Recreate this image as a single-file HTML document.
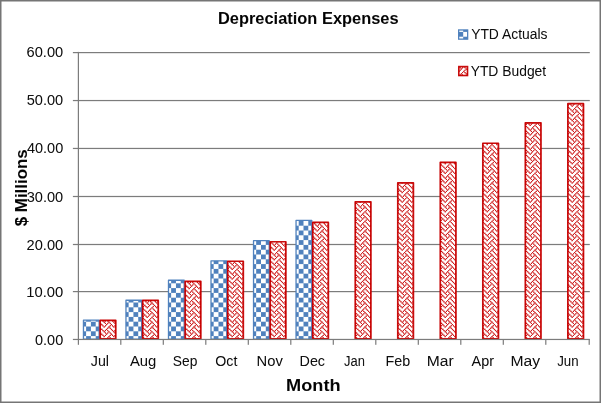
<!DOCTYPE html>
<html><head><meta charset="utf-8"><style>
html,body{margin:0;padding:0;background:#fff;overflow:hidden;}
svg{display:block;}
text{font-family:"Liberation Sans",sans-serif;fill:#000;}
.b{font-weight:bold;}
</style></head><body>
<svg width="601" height="403" viewBox="0 0 601 403">
<defs><pattern id="chk" width="8" height="8" patternUnits="userSpaceOnUse" patternTransform="scale(1.2)"><rect width="8" height="8" fill="#fff"/><rect x="0" y="0" width="4" height="4" fill="#4F81BD"/><rect x="4" y="4" width="4" height="4" fill="#4F81BD"/></pattern><pattern id="wv" width="48" height="48" patternUnits="userSpaceOnUse"><rect width="48" height="48" fill="#fff"/><path fill="#f6d4d4" d="M10 0h1v1h-1zM17 0h1v1h-1zM19 0h1v1h-1zM22 0h1v1h-1zM31 0h1v1h-1zM43 0h1v1h-1zM8 1h1v1h-1zM11 1h1v1h-1zM13 1h1v1h-1zM18 1h1v1h-1zM21 1h1v1h-1zM23 1h1v1h-1zM25 1h1v1h-1zM37 1h1v1h-1zM40 1h1v1h-1zM42 1h1v1h-1zM47 1h1v1h-1zM3 2h1v1h-1zM20 2h1v1h-1zM26 2h2v1h-2zM14 3h2v1h-2zM19 3h1v1h-1zM21 3h1v1h-1zM1 4h1v1h-1zM4 4h1v1h-1zM16 4h1v1h-1zM20 4h1v1h-1zM23 4h1v1h-1zM30 4h1v1h-1zM33 4h1v1h-1zM37 4h1v1h-1zM39 4h1v1h-1zM42 4h1v1h-1zM22 5h1v1h-1zM24 5h1v1h-1zM29 5h1v1h-1zM31 5h1v1h-1zM1 6h1v1h-1zM23 6h1v1h-1zM25 6h1v1h-1zM28 6h1v1h-1zM0 7h1v1h-1zM14 7h1v1h-1zM24 7h1v1h-1zM29 7h1v1h-1zM31 7h1v1h-1zM33 7h1v1h-1zM43 7h1v1h-1zM9 8h1v1h-1zM13 8h1v1h-1zM15 8h1v1h-1zM20 8h1v1h-1zM38 8h2v1h-2zM9 9h1v1h-1zM14 9h1v1h-1zM16 9h1v1h-1zM20 9h1v1h-1zM38 9h2v1h-2zM0 10h1v1h-1zM5 10h1v1h-1zM15 10h1v1h-1zM29 10h1v1h-1zM34 10h1v1h-1zM44 10h1v1h-1zM46 10h1v1h-1zM1 11h1v1h-1zM4 11h1v1h-1zM6 11h1v1h-1zM28 11h1v1h-1zM0 12h1v1h-1zM7 12h1v1h-1zM22 12h1v1h-1zM34 12h1v1h-1zM43 12h1v1h-1zM46 12h1v1h-1zM4 13h1v1h-1zM6 13h1v1h-1zM9 13h1v1h-1zM23 13h1v1h-1zM25 13h1v1h-1zM28 13h1v1h-1zM38 13h1v1h-1zM40 13h1v1h-1zM42 13h1v1h-1zM44 13h1v1h-1zM47 13h1v1h-1zM8 14h1v1h-1zM10 14h1v1h-1zM14 14h1v1h-1zM45 14h1v1h-1zM2 15h2v1h-2zM9 15h1v1h-1zM44 15h1v1h-1zM4 16h1v1h-1zM8 16h1v1h-1zM11 16h1v1h-1zM16 16h1v1h-1zM18 16h1v1h-1zM21 16h1v1h-1zM30 16h1v1h-1zM35 16h1v1h-1zM37 16h1v1h-1zM40 16h1v1h-1zM45 16h1v1h-1zM7 17h1v1h-1zM10 17h1v1h-1zM12 17h1v1h-1zM19 17h1v1h-1zM34 17h1v1h-1zM46 17h1v1h-1zM13 18h1v1h-1zM35 18h1v1h-1zM37 18h1v1h-1zM40 18h1v1h-1zM7 19h1v1h-1zM12 19h1v1h-1zM26 19h1v1h-1zM36 19h1v1h-1zM41 19h1v1h-1zM43 19h1v1h-1zM45 19h1v1h-1zM2 20h2v1h-2zM8 20h1v1h-1zM25 20h1v1h-1zM27 20h1v1h-1zM32 20h1v1h-1zM1 21h1v1h-1zM3 21h1v1h-1zM8 21h1v1h-1zM26 21h2v1h-2zM32 21h1v1h-1zM2 22h1v1h-1zM12 22h1v1h-1zM17 22h1v1h-1zM19 22h1v1h-1zM21 22h1v1h-1zM31 22h1v1h-1zM36 22h1v1h-1zM11 23h1v1h-1zM13 23h1v1h-1zM16 23h1v1h-1zM37 23h1v1h-1zM10 24h1v1h-1zM22 24h1v1h-1zM31 24h1v1h-1zM43 24h1v1h-1zM11 25h1v1h-1zM13 25h1v1h-1zM25 25h1v1h-1zM28 25h1v1h-1zM30 25h1v1h-1zM32 25h1v1h-1zM40 25h1v1h-1zM42 25h1v1h-1zM2 26h1v1h-1zM26 26h2v1h-2zM33 26h1v1h-1zM32 27h1v1h-1zM34 27h1v1h-1zM38 27h2v1h-2zM1 28h1v1h-1zM4 28h1v1h-1zM9 28h1v1h-1zM11 28h1v1h-1zM14 28h1v1h-1zM16 28h1v1h-1zM18 28h1v1h-1zM20 28h1v1h-1zM23 28h1v1h-1zM28 28h1v1h-1zM30 28h1v1h-1zM33 28h1v1h-1zM47 28h1v1h-1zM10 29h1v1h-1zM19 29h1v1h-1zM22 29h1v1h-1zM24 29h1v1h-1zM31 29h1v1h-1zM46 29h1v1h-1zM4 30h1v1h-1zM25 30h1v1h-1zM28 30h1v1h-1zM30 30h1v1h-1zM5 31h1v1h-1zM10 31h1v1h-1zM20 31h1v1h-1zM22 31h1v1h-1zM24 31h1v1h-1zM29 31h1v1h-1zM39 31h1v1h-1zM14 32h2v1h-2zM33 32h1v1h-1zM38 32h1v1h-1zM40 32h1v1h-1zM14 33h1v1h-1zM16 33h1v1h-1zM33 33h1v1h-1zM37 33h1v1h-1zM39 33h1v1h-1zM0 34h1v1h-1zM5 34h1v1h-1zM9 34h1v1h-1zM15 34h1v1h-1zM19 34h1v1h-1zM34 34h1v1h-1zM38 34h1v1h-1zM44 34h1v1h-1zM1 35h1v1h-1zM4 35h1v1h-1zM6 35h1v1h-1zM47 35h1v1h-1zM5 36h1v1h-1zM7 36h1v1h-1zM10 36h1v1h-1zM19 36h1v1h-1zM31 36h1v1h-1zM46 36h1v1h-1zM1 37h1v1h-1zM6 37h1v1h-1zM9 37h1v1h-1zM11 37h1v1h-1zM13 37h1v1h-1zM15 37h1v1h-1zM18 37h1v1h-1zM20 37h1v1h-1zM25 37h1v1h-1zM28 37h1v1h-1zM30 37h1v1h-1zM44 37h1v1h-1zM47 37h1v1h-1zM38 38h2v1h-2zM43 38h1v1h-1zM45 38h1v1h-1zM2 39h2v1h-2zM27 39h1v1h-1zM44 39h1v1h-1zM1 40h1v1h-1zM13 40h1v1h-1zM16 40h1v1h-1zM18 40h1v1h-1zM23 40h1v1h-1zM32 40h1v1h-1zM35 40h1v1h-1zM37 40h1v1h-1zM42 40h1v1h-1zM45 40h1v1h-1zM47 40h1v1h-1zM7 41h1v1h-1zM19 41h1v1h-1zM34 41h1v1h-1zM41 41h1v1h-1zM43 41h1v1h-1zM46 41h1v1h-1zM13 42h1v1h-1zM18 42h1v1h-1zM35 42h1v1h-1zM40 42h1v1h-1zM7 43h2v1h-2zM10 43h1v1h-1zM12 43h1v1h-1zM17 43h1v1h-1zM26 43h2v1h-2zM36 43h1v1h-1zM41 43h1v1h-1zM43 43h1v1h-1zM45 43h2v1h-2zM2 44h2v1h-2zM21 44h1v1h-1zM25 44h1v1h-1zM28 44h1v1h-1zM2 45h1v1h-1zM4 45h1v1h-1zM21 45h1v1h-1zM26 45h2v1h-2zM3 46h1v1h-1zM17 46h1v1h-1zM22 46h1v1h-1zM32 46h1v1h-1zM34 46h1v1h-1zM36 46h1v1h-1zM41 46h1v1h-1zM16 47h1v1h-1zM37 47h1v1h-1zM40 47h1v1h-1zM42 47h1v1h-1z"/><path fill="#edaaaa" d="M2 0h2v1h-2zM14 0h1v1h-1zM38 0h2v1h-2zM46 0h1v1h-1zM1 1h1v1h-1zM4 1h1v1h-1zM28 1h1v1h-1zM30 1h1v1h-1zM44 1h1v1h-1zM8 2h1v1h-1zM10 2h1v1h-1zM32 2h1v1h-1zM39 2h1v1h-1zM45 2h1v1h-1zM2 3h1v1h-1zM31 3h1v1h-1zM33 3h1v1h-1zM38 3h1v1h-1zM44 3h1v1h-1zM8 4h1v1h-1zM11 4h1v1h-1zM13 4h1v1h-1zM40 4h1v1h-1zM45 4h1v1h-1zM2 5h2v1h-2zM10 5h1v1h-1zM43 5h1v1h-1zM4 6h1v1h-1zM44 6h1v1h-1zM2 7h1v1h-1zM5 7h1v1h-1zM10 7h1v1h-1zM19 7h1v1h-1zM26 7h2v1h-2zM34 7h1v1h-1zM1 8h1v1h-1zM11 8h1v1h-1zM18 8h1v1h-1zM25 8h1v1h-1zM28 8h1v1h-1zM30 8h1v1h-1zM32 8h1v1h-1zM44 8h1v1h-1zM47 8h1v1h-1zM1 9h1v1h-1zM4 9h1v1h-1zM11 9h1v1h-1zM18 9h1v1h-1zM28 9h1v1h-1zM30 9h1v1h-1zM33 9h1v1h-1zM45 9h1v1h-1zM47 9h1v1h-1zM2 10h2v1h-2zM10 10h1v1h-1zM19 10h1v1h-1zM24 10h1v1h-1zM27 10h1v1h-1zM43 10h1v1h-1zM25 11h1v1h-1zM3 12h1v1h-1zM14 12h2v1h-2zM19 12h1v1h-1zM26 12h2v1h-2zM13 13h1v1h-1zM16 13h1v1h-1zM18 13h1v1h-1zM21 13h1v1h-1zM35 13h1v1h-1zM37 13h1v1h-1zM7 14h1v1h-1zM26 14h2v1h-2zM33 14h1v1h-1zM39 14h1v1h-1zM46 14h1v1h-1zM15 15h1v1h-1zM19 15h1v1h-1zM21 15h1v1h-1zM32 15h1v1h-1zM34 15h1v1h-1zM38 15h1v1h-1zM1 16h1v1h-1zM6 16h1v1h-1zM25 16h1v1h-1zM28 16h1v1h-1zM33 16h1v1h-1zM47 16h1v1h-1zM15 17h1v1h-1zM26 17h2v1h-2zM31 17h1v1h-1zM38 17h2v1h-2zM16 18h1v1h-1zM14 19h1v1h-1zM17 19h1v1h-1zM22 19h1v1h-1zM31 19h1v1h-1zM38 19h2v1h-2zM46 19h1v1h-1zM13 20h1v1h-1zM18 20h1v1h-1zM21 20h1v1h-1zM23 20h1v1h-1zM37 20h1v1h-1zM40 20h1v1h-1zM42 20h1v1h-1zM44 20h1v1h-1zM47 20h1v1h-1zM13 21h1v1h-1zM16 21h1v1h-1zM18 21h1v1h-1zM20 21h1v1h-1zM23 21h1v1h-1zM37 21h1v1h-1zM42 21h1v1h-1zM45 21h1v1h-1zM47 21h1v1h-1zM7 22h1v1h-1zM14 22h2v1h-2zM22 22h1v1h-1zM38 22h1v1h-1zM41 22h1v1h-1zM46 22h1v1h-1zM40 23h1v1h-1zM2 24h2v1h-2zM14 24h1v1h-1zM39 24h1v1h-1zM1 25h1v1h-1zM4 25h1v1h-1zM9 25h1v1h-1zM23 25h1v1h-1zM44 25h1v1h-1zM8 26h1v1h-1zM14 26h1v1h-1zM21 26h1v1h-1zM43 26h1v1h-1zM45 26h1v1h-1zM3 27h1v1h-1zM9 27h1v1h-1zM15 27h1v1h-1zM20 27h1v1h-1zM22 27h1v1h-1zM13 28h1v1h-1zM37 28h1v1h-1zM40 28h1v1h-1zM42 28h1v1h-1zM45 28h1v1h-1zM2 29h2v1h-2zM27 29h1v1h-1zM38 29h2v1h-2zM43 29h1v1h-1zM1 30h1v1h-1zM0 31h1v1h-1zM3 31h1v1h-1zM19 31h1v1h-1zM26 31h2v1h-2zM34 31h1v1h-1zM43 31h1v1h-1zM4 32h1v1h-1zM9 32h1v1h-1zM21 32h1v1h-1zM23 32h1v1h-1zM25 32h1v1h-1zM28 32h1v1h-1zM42 32h1v1h-1zM44 32h1v1h-1zM1 33h1v1h-1zM4 33h1v1h-1zM8 33h1v1h-1zM20 33h1v1h-1zM23 33h1v1h-1zM42 33h1v1h-1zM45 33h1v1h-1zM2 34h2v1h-2zM10 34h1v1h-1zM24 34h1v1h-1zM29 34h1v1h-1zM43 34h1v1h-1zM25 35h1v1h-1zM28 35h1v1h-1zM33 35h1v1h-1zM2 36h1v1h-1zM26 36h2v1h-2zM34 36h1v1h-1zM38 36h2v1h-2zM16 37h1v1h-1zM32 37h1v1h-1zM35 37h1v1h-1zM37 37h1v1h-1zM40 37h1v1h-1zM7 38h1v1h-1zM9 38h1v1h-1zM14 38h1v1h-1zM20 38h1v1h-1zM26 38h1v1h-1zM8 39h1v1h-1zM15 39h1v1h-1zM21 39h1v1h-1zM32 39h1v1h-1zM34 39h1v1h-1zM4 40h1v1h-1zM6 40h1v1h-1zM20 40h1v1h-1zM25 40h1v1h-1zM28 40h1v1h-1zM14 41h2v1h-2zM22 41h1v1h-1zM26 41h2v1h-2zM38 41h1v1h-1zM16 42h1v1h-1zM37 42h1v1h-1zM14 43h1v1h-1zM22 43h1v1h-1zM31 43h1v1h-1zM39 43h1v1h-1zM9 44h1v1h-1zM11 44h1v1h-1zM13 44h1v1h-1zM30 44h1v1h-1zM32 44h1v1h-1zM40 44h1v1h-1zM44 44h1v1h-1zM8 45h1v1h-1zM11 45h1v1h-1zM16 45h1v1h-1zM30 45h1v1h-1zM33 45h1v1h-1zM37 45h1v1h-1zM40 45h1v1h-1zM45 45h1v1h-1zM7 46h1v1h-1zM12 46h1v1h-1zM15 46h1v1h-1zM31 46h1v1h-1zM38 46h2v1h-2zM46 46h1v1h-1zM13 47h1v1h-1z"/><path fill="#e48080" d="M27 0h1v1h-1zM9 1h1v1h-1zM15 1h1v1h-1zM20 1h1v1h-1zM33 1h1v1h-1zM0 2h1v1h-1zM5 2h1v1h-1zM13 2h4v1h-4zM19 2h1v1h-1zM24 2h1v1h-1zM29 2h1v1h-1zM34 2h1v1h-1zM37 2h1v1h-1zM43 2h1v1h-1zM4 3h1v1h-1zM7 3h1v1h-1zM9 3h1v1h-1zM12 3h1v1h-1zM17 3h1v1h-1zM22 3h1v1h-1zM25 3h4v1h-4zM36 3h1v1h-1zM41 3h1v1h-1zM46 3h1v1h-1zM21 4h1v1h-1zM26 4h2v1h-2zM32 4h1v1h-1zM14 5h1v1h-1zM39 5h1v1h-1zM9 6h1v1h-1zM20 6h1v1h-1zM33 6h1v1h-1zM8 7h1v1h-1zM15 7h1v1h-1zM21 7h1v1h-1zM38 7h2v1h-2zM45 7h1v1h-1zM3 8h1v1h-1zM6 8h1v1h-1zM8 8h1v1h-1zM16 8h1v1h-1zM21 8h2v1h-2zM35 8h1v1h-1zM37 8h1v1h-1zM40 8h1v1h-1zM45 8h1v1h-1zM7 9h2v1h-2zM13 9h1v1h-1zM21 9h1v1h-1zM23 9h1v1h-1zM26 9h1v1h-1zM32 9h1v1h-1zM37 9h1v1h-1zM40 9h1v1h-1zM42 9h1v1h-1zM8 10h1v1h-1zM14 10h1v1h-1zM21 10h1v1h-1zM32 10h1v1h-1zM38 10h2v1h-2zM9 11h1v1h-1zM20 11h1v1h-1zM33 11h1v1h-1zM44 11h1v1h-1zM38 12h1v1h-1zM2 13h1v1h-1zM8 13h1v1h-1zM32 13h1v1h-1zM45 13h1v1h-1zM1 14h4v1h-4zM12 14h1v1h-1zM17 14h1v1h-1zM20 14h1v1h-1zM22 14h1v1h-1zM31 14h1v1h-1zM36 14h1v1h-1zM41 14h1v1h-1zM0 15h1v1h-1zM5 15h1v1h-1zM10 15h1v1h-1zM13 15h1v1h-1zM24 15h1v1h-1zM29 15h1v1h-1zM40 15h1v1h-1zM43 15h1v1h-1zM9 16h1v1h-1zM14 16h1v1h-1zM20 16h1v1h-1zM44 16h1v1h-1zM2 17h1v1h-1zM8 18h1v1h-1zM21 18h1v1h-1zM32 18h1v1h-1zM45 18h1v1h-1zM2 19h2v1h-2zM9 19h1v1h-1zM20 19h1v1h-1zM27 19h1v1h-1zM33 19h1v1h-1zM1 20h1v1h-1zM4 20h1v1h-1zM9 20h1v1h-1zM11 20h1v1h-1zM15 20h1v1h-1zM20 20h1v1h-1zM28 20h1v1h-1zM30 20h1v1h-1zM33 20h2v1h-2zM4 21h1v1h-1zM6 21h1v1h-1zM9 21h2v1h-2zM25 21h1v1h-1zM28 21h1v1h-1zM33 21h1v1h-1zM35 21h1v1h-1zM39 21h1v1h-1zM44 21h1v1h-1zM3 22h1v1h-1zM9 22h1v1h-1zM26 22h2v1h-2zM33 22h1v1h-1zM44 22h1v1h-1zM8 23h1v1h-1zM21 23h1v1h-1zM32 23h1v1h-1zM45 23h1v1h-1zM15 25h1v1h-1zM20 25h1v1h-1zM33 25h1v1h-1zM38 25h1v1h-1zM0 26h1v1h-1zM5 26h1v1h-1zM10 26h1v1h-1zM16 26h1v1h-1zM19 26h1v1h-1zM24 26h1v1h-1zM29 26h1v1h-1zM34 26h1v1h-1zM37 26h4v1h-4zM1 27h1v1h-1zM7 27h1v1h-1zM12 27h1v1h-1zM17 27h1v1h-1zM25 27h4v1h-4zM31 27h1v1h-1zM36 27h1v1h-1zM41 27h1v1h-1zM44 27h1v1h-1zM46 27h1v1h-1zM8 28h1v1h-1zM21 28h1v1h-1zM26 28h1v1h-1zM32 28h1v1h-1zM14 29h1v1h-1zM9 30h1v1h-1zM20 30h1v1h-1zM33 30h1v1h-1zM44 30h1v1h-1zM8 31h1v1h-1zM14 31h2v1h-2zM32 31h1v1h-1zM38 31h1v1h-1zM45 31h1v1h-1zM2 32h1v1h-1zM6 32h1v1h-1zM8 32h1v1h-1zM13 32h1v1h-1zM16 32h1v1h-1zM18 32h1v1h-1zM31 32h2v1h-2zM35 32h1v1h-1zM37 32h1v1h-1zM45 32h1v1h-1zM47 32h1v1h-1zM7 33h1v1h-1zM11 33h1v1h-1zM13 33h1v1h-1zM21 33h1v1h-1zM26 33h2v1h-2zM30 33h1v1h-1zM32 33h1v1h-1zM40 33h1v1h-1zM46 33h1v1h-1zM14 34h1v1h-1zM21 34h1v1h-1zM32 34h1v1h-1zM39 34h1v1h-1zM9 35h1v1h-1zM20 35h1v1h-1zM44 35h1v1h-1zM15 36h1v1h-1zM3 37h1v1h-1zM8 37h1v1h-1zM21 37h1v1h-1zM45 37h1v1h-1zM1 38h4v1h-4zM12 38h1v1h-1zM17 38h1v1h-1zM22 38h1v1h-1zM28 38h1v1h-1zM31 38h1v1h-1zM33 38h1v1h-1zM36 38h1v1h-1zM41 38h1v1h-1zM46 38h1v1h-1zM0 39h1v1h-1zM5 39h1v1h-1zM10 39h1v1h-1zM13 39h1v1h-1zM19 39h1v1h-1zM24 39h1v1h-1zM29 39h1v1h-1zM37 39h4v1h-4zM43 39h1v1h-1zM9 40h1v1h-1zM33 40h1v1h-1zM39 40h1v1h-1zM44 40h1v1h-1zM3 41h1v1h-1zM8 42h1v1h-1zM21 42h1v1h-1zM32 42h1v1h-1zM45 42h1v1h-1zM2 43h2v1h-2zM20 43h1v1h-1zM33 43h1v1h-1zM1 44h1v1h-1zM4 44h1v1h-1zM15 44h1v1h-1zM19 44h2v1h-2zM23 44h1v1h-1zM34 44h1v1h-1zM38 44h1v1h-1zM42 44h1v1h-1zM1 45h1v1h-1zM6 45h1v1h-1zM9 45h1v1h-1zM14 45h1v1h-1zM18 45h1v1h-1zM20 45h1v1h-1zM25 45h1v1h-1zM28 45h1v1h-1zM35 45h1v1h-1zM43 45h1v1h-1zM47 45h1v1h-1zM2 46h1v1h-1zM9 46h1v1h-1zM20 46h1v1h-1zM26 46h2v1h-2zM44 46h1v1h-1zM8 47h1v1h-1zM21 47h1v1h-1zM32 47h1v1h-1zM45 47h1v1h-1z"/><path fill="#da5555" d="M8 0h2v1h-2zM20 0h2v1h-2zM32 0h2v1h-2zM14 1h1v1h-1zM34 1h1v1h-1zM38 1h2v1h-2zM4 2h1v1h-1zM6 2h1v1h-1zM9 2h1v1h-1zM18 2h1v1h-1zM23 2h1v1h-1zM25 2h1v1h-1zM28 2h1v1h-1zM33 2h1v1h-1zM35 2h1v1h-1zM38 2h1v1h-1zM42 2h1v1h-1zM44 2h1v1h-1zM47 2h1v1h-1zM3 3h1v1h-1zM6 3h1v1h-1zM8 3h1v1h-1zM13 3h1v1h-1zM16 3h1v1h-1zM18 3h1v1h-1zM23 3h1v1h-1zM32 3h1v1h-1zM35 3h1v1h-1zM37 3h1v1h-1zM42 3h1v1h-1zM45 3h1v1h-1zM47 3h1v1h-1zM2 4h2v1h-2zM7 4h1v1h-1zM46 4h1v1h-1zM20 5h2v1h-2zM32 5h2v1h-2zM14 6h2v1h-2zM38 6h2v1h-2zM9 7h1v1h-1zM16 7h1v1h-1zM20 7h1v1h-1zM37 7h1v1h-1zM40 7h1v1h-1zM44 7h1v1h-1zM2 8h1v1h-1zM7 8h1v1h-1zM12 8h1v1h-1zM17 8h1v1h-1zM26 8h2v1h-2zM31 8h1v1h-1zM36 8h1v1h-1zM41 8h1v1h-1zM46 8h1v1h-1zM2 9h2v1h-2zM12 9h1v1h-1zM17 9h1v1h-1zM22 9h1v1h-1zM27 9h1v1h-1zM31 9h1v1h-1zM36 9h1v1h-1zM41 9h1v1h-1zM46 9h1v1h-1zM9 10h1v1h-1zM13 10h1v1h-1zM20 10h1v1h-1zM33 10h1v1h-1zM37 10h1v1h-1zM40 10h1v1h-1zM14 11h2v1h-2zM38 11h2v1h-2zM8 12h2v1h-2zM32 12h2v1h-2zM44 12h2v1h-2zM3 13h1v1h-1zM26 13h2v1h-2zM31 13h1v1h-1zM11 14h1v1h-1zM13 14h1v1h-1zM21 14h1v1h-1zM23 14h1v1h-1zM30 14h1v1h-1zM32 14h1v1h-1zM40 14h1v1h-1zM42 14h1v1h-1zM1 15h1v1h-1zM4 15h1v1h-1zM11 15h1v1h-1zM14 15h1v1h-1zM20 15h1v1h-1zM23 15h1v1h-1zM30 15h1v1h-1zM33 15h1v1h-1zM39 15h1v1h-1zM42 15h1v1h-1zM15 16h1v1h-1zM38 16h2v1h-2zM43 16h1v1h-1zM8 17h2v1h-2zM20 17h2v1h-2zM44 17h2v1h-2zM2 18h2v1h-2zM26 18h2v1h-2zM1 19h1v1h-1zM4 19h1v1h-1zM8 19h1v1h-1zM21 19h1v1h-1zM28 19h1v1h-1zM32 19h1v1h-1zM0 20h1v1h-1zM5 20h1v1h-1zM10 20h1v1h-1zM14 20h1v1h-1zM19 20h1v1h-1zM24 20h1v1h-1zM29 20h1v1h-1zM38 20h2v1h-2zM43 20h1v1h-1zM0 21h1v1h-1zM5 21h1v1h-1zM14 21h2v1h-2zM19 21h1v1h-1zM24 21h1v1h-1zM29 21h1v1h-1zM34 21h1v1h-1zM38 21h1v1h-1zM43 21h1v1h-1zM4 22h1v1h-1zM8 22h1v1h-1zM25 22h1v1h-1zM28 22h1v1h-1zM32 22h1v1h-1zM45 22h1v1h-1zM2 23h2v1h-2zM26 23h2v1h-2zM20 24h2v1h-2zM32 24h2v1h-2zM14 25h1v1h-1zM19 25h1v1h-1zM34 25h1v1h-1zM39 25h1v1h-1zM1 26h1v1h-1zM6 26h1v1h-1zM9 26h1v1h-1zM11 26h1v1h-1zM15 26h1v1h-1zM18 26h1v1h-1zM20 26h1v1h-1zM25 26h1v1h-1zM28 26h1v1h-1zM30 26h1v1h-1zM35 26h1v1h-1zM44 26h1v1h-1zM47 26h1v1h-1zM2 27h1v1h-1zM6 27h1v1h-1zM8 27h1v1h-1zM11 27h1v1h-1zM16 27h1v1h-1zM18 27h1v1h-1zM21 27h1v1h-1zM30 27h1v1h-1zM35 27h1v1h-1zM37 27h1v1h-1zM40 27h1v1h-1zM45 27h1v1h-1zM47 27h1v1h-1zM2 28h2v1h-2zM7 28h1v1h-1zM27 28h1v1h-1zM8 29h2v1h-2zM20 29h2v1h-2zM32 29h2v1h-2zM14 30h2v1h-2zM38 30h2v1h-2zM9 31h1v1h-1zM13 31h1v1h-1zM16 31h1v1h-1zM33 31h1v1h-1zM37 31h1v1h-1zM44 31h1v1h-1zM3 32h1v1h-1zM7 32h1v1h-1zM12 32h1v1h-1zM17 32h1v1h-1zM22 32h1v1h-1zM26 32h2v1h-2zM36 32h1v1h-1zM41 32h1v1h-1zM46 32h1v1h-1zM2 33h2v1h-2zM12 33h1v1h-1zM17 33h1v1h-1zM22 33h1v1h-1zM31 33h1v1h-1zM36 33h1v1h-1zM41 33h1v1h-1zM13 34h1v1h-1zM20 34h1v1h-1zM33 34h1v1h-1zM40 34h1v1h-1zM14 35h2v1h-2zM38 35h2v1h-2zM8 36h2v1h-2zM20 36h2v1h-2zM44 36h2v1h-2zM2 37h1v1h-1zM22 37h1v1h-1zM26 37h2v1h-2zM8 38h1v1h-1zM11 38h1v1h-1zM13 38h1v1h-1zM18 38h1v1h-1zM21 38h1v1h-1zM23 38h1v1h-1zM27 38h1v1h-1zM30 38h1v1h-1zM32 38h1v1h-1zM37 38h1v1h-1zM40 38h1v1h-1zM42 38h1v1h-1zM47 38h1v1h-1zM1 39h1v1h-1zM4 39h1v1h-1zM9 39h1v1h-1zM11 39h1v1h-1zM14 39h1v1h-1zM18 39h1v1h-1zM20 39h1v1h-1zM23 39h1v1h-1zM28 39h1v1h-1zM30 39h1v1h-1zM33 39h1v1h-1zM42 39h1v1h-1zM47 39h1v1h-1zM10 40h1v1h-1zM14 40h2v1h-2zM38 40h1v1h-1zM8 41h2v1h-2zM32 41h2v1h-2zM44 41h2v1h-2zM2 42h2v1h-2zM26 42h2v1h-2zM1 43h1v1h-1zM4 43h1v1h-1zM21 43h1v1h-1zM32 43h1v1h-1zM0 44h1v1h-1zM5 44h1v1h-1zM10 44h1v1h-1zM14 44h1v1h-1zM24 44h1v1h-1zM29 44h1v1h-1zM33 44h1v1h-1zM39 44h1v1h-1zM43 44h1v1h-1zM0 45h1v1h-1zM5 45h1v1h-1zM10 45h1v1h-1zM15 45h1v1h-1zM19 45h1v1h-1zM24 45h1v1h-1zM29 45h1v1h-1zM34 45h1v1h-1zM38 45h2v1h-2zM44 45h1v1h-1zM1 46h1v1h-1zM8 46h1v1h-1zM21 46h1v1h-1zM25 46h1v1h-1zM28 46h1v1h-1zM45 46h1v1h-1zM2 47h2v1h-2zM26 47h2v1h-2z"/><path fill="#d12a2a" d="M1 0h1v1h-1zM4 0h1v1h-1zM13 0h1v1h-1zM28 0h1v1h-1zM37 0h1v1h-1zM40 0h1v1h-1zM0 1h1v1h-1zM5 1h1v1h-1zM10 1h1v1h-1zM19 1h1v1h-1zM24 1h1v1h-1zM29 1h1v1h-1zM43 1h1v1h-1zM12 4h1v1h-1zM17 4h1v1h-1zM22 4h1v1h-1zM31 4h1v1h-1zM36 4h1v1h-1zM41 4h1v1h-1zM1 5h1v1h-1zM4 5h1v1h-1zM13 5h1v1h-1zM40 5h1v1h-1zM10 6h1v1h-1zM19 6h1v1h-1zM34 6h1v1h-1zM43 6h1v1h-1zM1 7h1v1h-1zM6 7h1v1h-1zM11 7h1v1h-1zM18 7h1v1h-1zM25 7h1v1h-1zM28 7h1v1h-1zM30 7h1v1h-1zM35 7h1v1h-1zM47 7h1v1h-1zM1 10h1v1h-1zM4 10h1v1h-1zM11 10h1v1h-1zM18 10h1v1h-1zM23 10h1v1h-1zM28 10h1v1h-1zM30 10h1v1h-1zM42 10h1v1h-1zM47 10h1v1h-1zM10 11h1v1h-1zM19 11h1v1h-1zM34 11h1v1h-1zM43 11h1v1h-1zM4 12h1v1h-1zM13 12h1v1h-1zM16 12h1v1h-1zM25 12h1v1h-1zM28 12h1v1h-1zM37 12h1v1h-1zM7 13h1v1h-1zM12 13h1v1h-1zM17 13h1v1h-1zM22 13h1v1h-1zM36 13h1v1h-1zM41 13h1v1h-1zM46 13h1v1h-1zM0 16h1v1h-1zM5 16h1v1h-1zM10 16h1v1h-1zM19 16h1v1h-1zM24 16h1v1h-1zM29 16h1v1h-1zM34 16h1v1h-1zM1 17h1v1h-1zM16 17h1v1h-1zM25 17h1v1h-1zM28 17h1v1h-1zM37 17h1v1h-1zM40 17h1v1h-1zM7 18h1v1h-1zM22 18h1v1h-1zM31 18h1v1h-1zM46 18h1v1h-1zM11 19h1v1h-1zM13 19h1v1h-1zM18 19h1v1h-1zM23 19h1v1h-1zM30 19h1v1h-1zM37 19h1v1h-1zM40 19h1v1h-1zM42 19h1v1h-1zM47 19h1v1h-1zM6 22h1v1h-1zM13 22h1v1h-1zM16 22h1v1h-1zM18 22h1v1h-1zM23 22h1v1h-1zM35 22h1v1h-1zM37 22h1v1h-1zM42 22h1v1h-1zM47 22h1v1h-1zM7 23h1v1h-1zM22 23h1v1h-1zM31 23h1v1h-1zM46 23h1v1h-1zM1 24h1v1h-1zM4 24h1v1h-1zM13 24h1v1h-1zM40 24h1v1h-1zM0 25h1v1h-1zM5 25h1v1h-1zM10 25h1v1h-1zM24 25h1v1h-1zM29 25h1v1h-1zM43 25h1v1h-1zM12 28h1v1h-1zM17 28h1v1h-1zM22 28h1v1h-1zM31 28h1v1h-1zM36 28h1v1h-1zM41 28h1v1h-1zM46 28h1v1h-1zM1 29h1v1h-1zM4 29h1v1h-1zM13 29h1v1h-1zM28 29h1v1h-1zM37 29h1v1h-1zM40 29h1v1h-1zM10 30h1v1h-1zM19 30h1v1h-1zM34 30h1v1h-1zM43 30h1v1h-1zM4 31h1v1h-1zM6 31h1v1h-1zM18 31h1v1h-1zM23 31h1v1h-1zM25 31h1v1h-1zM28 31h1v1h-1zM35 31h1v1h-1zM42 31h1v1h-1zM47 31h1v1h-1zM1 34h1v1h-1zM4 34h1v1h-1zM11 34h1v1h-1zM23 34h1v1h-1zM30 34h1v1h-1zM42 34h1v1h-1zM10 35h1v1h-1zM19 35h1v1h-1zM34 35h1v1h-1zM43 35h1v1h-1zM1 36h1v1h-1zM16 36h1v1h-1zM25 36h1v1h-1zM28 36h1v1h-1zM37 36h1v1h-1zM40 36h1v1h-1zM7 37h1v1h-1zM12 37h1v1h-1zM17 37h1v1h-1zM31 37h1v1h-1zM36 37h1v1h-1zM41 37h1v1h-1zM46 37h1v1h-1zM0 40h1v1h-1zM5 40h1v1h-1zM19 40h1v1h-1zM24 40h1v1h-1zM29 40h1v1h-1zM34 40h1v1h-1zM43 40h1v1h-1zM4 41h1v1h-1zM13 41h1v1h-1zM16 41h1v1h-1zM25 41h1v1h-1zM28 41h1v1h-1zM37 41h1v1h-1zM7 42h1v1h-1zM22 42h1v1h-1zM31 42h1v1h-1zM46 42h1v1h-1zM11 43h1v1h-1zM13 43h1v1h-1zM23 43h1v1h-1zM30 43h1v1h-1zM40 43h1v1h-1zM42 43h1v1h-1zM6 46h1v1h-1zM11 46h1v1h-1zM16 46h1v1h-1zM18 46h1v1h-1zM30 46h1v1h-1zM35 46h1v1h-1zM37 46h1v1h-1zM40 46h1v1h-1zM47 46h1v1h-1zM7 47h1v1h-1zM22 47h1v1h-1zM31 47h1v1h-1zM46 47h1v1h-1z"/><path fill="#c80000" d="M11 0h1v1h-1zM18 0h1v1h-1zM23 0h1v1h-1zM30 0h1v1h-1zM42 0h1v1h-1zM47 0h1v1h-1zM11 5h1v1h-1zM23 5h1v1h-1zM30 5h1v1h-1zM42 5h1v1h-1zM0 6h1v1h-1zM5 6h1v1h-1zM24 6h1v1h-1zM29 6h1v1h-1zM0 11h1v1h-1zM5 11h1v1h-1zM24 11h1v1h-1zM29 11h1v1h-1zM6 12h1v1h-1zM18 12h1v1h-1zM23 12h1v1h-1zM35 12h1v1h-1zM42 12h1v1h-1zM47 12h1v1h-1zM6 17h1v1h-1zM11 17h1v1h-1zM18 17h1v1h-1zM30 17h1v1h-1zM35 17h1v1h-1zM47 17h1v1h-1zM12 18h1v1h-1zM17 18h1v1h-1zM36 18h1v1h-1zM41 18h1v1h-1zM12 23h1v1h-1zM17 23h1v1h-1zM36 23h1v1h-1zM41 23h1v1h-1zM11 24h1v1h-1zM23 24h1v1h-1zM30 24h1v1h-1zM42 24h1v1h-1zM11 29h1v1h-1zM18 29h1v1h-1zM23 29h1v1h-1zM30 29h1v1h-1zM42 29h1v1h-1zM47 29h1v1h-1zM0 30h1v1h-1zM5 30h1v1h-1zM24 30h1v1h-1zM29 30h1v1h-1zM0 35h1v1h-1zM5 35h1v1h-1zM24 35h1v1h-1zM29 35h1v1h-1zM6 36h1v1h-1zM11 36h1v1h-1zM18 36h1v1h-1zM30 36h1v1h-1zM35 36h1v1h-1zM47 36h1v1h-1zM6 41h1v1h-1zM18 41h1v1h-1zM23 41h1v1h-1zM35 41h1v1h-1zM42 41h1v1h-1zM47 41h1v1h-1zM12 42h1v1h-1zM17 42h1v1h-1zM36 42h1v1h-1zM41 42h1v1h-1zM12 47h1v1h-1zM17 47h1v1h-1zM36 47h1v1h-1zM41 47h1v1h-1z"/></pattern><pattern id="chkL" href="#chk" patternTransform="translate(7.2 3.1) scale(1.2)"/><pattern id="cb0" href="#chk" patternTransform="translate(86.10 0.1) scale(1.2)"/><pattern id="rb0" href="#wv" patternTransform="translate(106 6)"/><pattern id="cb1" href="#chk" patternTransform="translate(128.62 0.1) scale(1.2)"/><pattern id="rb1" href="#wv" patternTransform="translate(149 6)"/><pattern id="cb2" href="#chk" patternTransform="translate(171.14 0.1) scale(1.2)"/><pattern id="rb2" href="#wv" patternTransform="translate(191 6)"/><pattern id="cb3" href="#chk" patternTransform="translate(213.66 0.1) scale(1.2)"/><pattern id="rb3" href="#wv" patternTransform="translate(234 6)"/><pattern id="cb4" href="#chk" patternTransform="translate(256.18 0.1) scale(1.2)"/><pattern id="rb4" href="#wv" patternTransform="translate(276 6)"/><pattern id="cb5" href="#chk" patternTransform="translate(298.70 0.1) scale(1.2)"/><pattern id="rb5" href="#wv" patternTransform="translate(319 6)"/><pattern id="rb6" href="#wv" patternTransform="translate(362 6)"/><pattern id="rb7" href="#wv" patternTransform="translate(404 6)"/><pattern id="rb8" href="#wv" patternTransform="translate(447 6)"/><pattern id="rb9" href="#wv" patternTransform="translate(489 6)"/><pattern id="rb10" href="#wv" patternTransform="translate(532 6)"/><pattern id="rb11" href="#wv" patternTransform="translate(574 6)"/><filter id="bl" x="0" y="0" width="601" height="403" filterUnits="userSpaceOnUse"><feConvolveMatrix order="3" kernelMatrix="0.0000 0.0038 0.0000 0.0038 0.9847 0.0038 0.0000 0.0038 0.0000" edgeMode="duplicate" preserveAlpha="false"/></filter></defs>
<rect x="0" y="0" width="601" height="403" fill="#fff"/>
<g filter="url(#bl)">
<rect x="0" y="0" width="601" height="403" fill="#fff"/>
<rect x="0.75" y="0.75" width="599.5" height="401.5" fill="none" stroke="#747474" stroke-width="1.5"/>
<rect x="72.9" y="291.00" width="516.90" height="1.2" fill="#7a7a7a"/>
<rect x="72.9" y="243.90" width="516.90" height="1.2" fill="#7a7a7a"/>
<rect x="72.9" y="195.90" width="516.90" height="1.2" fill="#7a7a7a"/>
<rect x="72.9" y="147.85" width="516.90" height="1.2" fill="#7a7a7a"/>
<rect x="72.9" y="99.95" width="516.90" height="1.2" fill="#7a7a7a"/>
<rect x="72.9" y="52.00" width="516.90" height="1.2" fill="#7a7a7a"/>
<rect stroke-linejoin="round" x="83.45" y="320.15" width="15.70" height="19.00" fill="url(#cb0)" stroke="#4F81BD" stroke-width="1.3"/>
<rect stroke-linejoin="round" x="100.15" y="320.35" width="15.60" height="18.60" fill="url(#rb0)" stroke="#C80000" stroke-width="1.7"/>
<rect stroke-linejoin="round" x="125.97" y="300.25" width="15.70" height="38.90" fill="url(#cb1)" stroke="#4F81BD" stroke-width="1.3"/>
<rect stroke-linejoin="round" x="142.67" y="300.45" width="15.60" height="38.50" fill="url(#rb1)" stroke="#C80000" stroke-width="1.7"/>
<rect stroke-linejoin="round" x="168.49" y="280.25" width="15.70" height="58.90" fill="url(#cb2)" stroke="#4F81BD" stroke-width="1.3"/>
<rect stroke-linejoin="round" x="185.19" y="281.35" width="15.60" height="57.60" fill="url(#rb2)" stroke="#C80000" stroke-width="1.7"/>
<rect stroke-linejoin="round" x="211.01" y="260.85" width="15.70" height="78.30" fill="url(#cb3)" stroke="#4F81BD" stroke-width="1.3"/>
<rect stroke-linejoin="round" x="227.71" y="261.25" width="15.60" height="77.70" fill="url(#rb3)" stroke="#C80000" stroke-width="1.7"/>
<rect stroke-linejoin="round" x="253.53" y="240.65" width="15.70" height="98.50" fill="url(#cb4)" stroke="#4F81BD" stroke-width="1.3"/>
<rect stroke-linejoin="round" x="270.23" y="241.75" width="15.60" height="97.20" fill="url(#rb4)" stroke="#C80000" stroke-width="1.7"/>
<rect stroke-linejoin="round" x="296.05" y="220.35" width="15.70" height="118.80" fill="url(#cb5)" stroke="#4F81BD" stroke-width="1.3"/>
<rect stroke-linejoin="round" x="312.75" y="222.45" width="15.60" height="116.50" fill="url(#rb5)" stroke="#C80000" stroke-width="1.7"/>
<rect stroke-linejoin="round" x="355.27" y="201.85" width="15.60" height="137.10" fill="url(#rb6)" stroke="#C80000" stroke-width="1.7"/>
<rect stroke-linejoin="round" x="397.79" y="182.85" width="15.60" height="156.10" fill="url(#rb7)" stroke="#C80000" stroke-width="1.7"/>
<rect stroke-linejoin="round" x="440.31" y="162.35" width="15.60" height="176.60" fill="url(#rb8)" stroke="#C80000" stroke-width="1.7"/>
<rect stroke-linejoin="round" x="482.83" y="143.25" width="15.60" height="195.70" fill="url(#rb9)" stroke="#C80000" stroke-width="1.7"/>
<rect stroke-linejoin="round" x="525.35" y="122.85" width="15.60" height="216.10" fill="url(#rb10)" stroke="#C80000" stroke-width="1.7"/>
<rect stroke-linejoin="round" x="567.87" y="103.65" width="15.60" height="235.30" fill="url(#rb11)" stroke="#C80000" stroke-width="1.7"/>
<rect x="72.9" y="338.85" width="516.90" height="1.2" fill="#7a7a7a"/>
<rect x="77.80" y="51.9" width="1.2" height="292.90" fill="#7a7a7a"/>
<rect x="120.20" y="339" width="1.2" height="5.8" fill="#7a7a7a"/>
<rect x="162.70" y="339" width="1.2" height="5.8" fill="#7a7a7a"/>
<rect x="205.20" y="339" width="1.2" height="5.8" fill="#7a7a7a"/>
<rect x="247.70" y="339" width="1.2" height="5.8" fill="#7a7a7a"/>
<rect x="290.20" y="339" width="1.2" height="5.8" fill="#7a7a7a"/>
<rect x="332.70" y="339" width="1.2" height="5.8" fill="#7a7a7a"/>
<rect x="375.20" y="339" width="1.2" height="5.8" fill="#7a7a7a"/>
<rect x="417.70" y="339" width="1.2" height="5.8" fill="#7a7a7a"/>
<rect x="460.20" y="339" width="1.2" height="5.8" fill="#7a7a7a"/>
<rect x="502.70" y="339" width="1.2" height="5.8" fill="#7a7a7a"/>
<rect x="545.20" y="339" width="1.2" height="5.8" fill="#7a7a7a"/>
<rect x="588.60" y="339" width="1.2" height="5.8" fill="#7a7a7a"/>
<text x="35.02" y="345.32" font-size="14.6" textLength="28.18" lengthAdjust="spacingAndGlyphs">0.00</text>
<text x="26.19" y="297.23" font-size="14.6" textLength="37.04" lengthAdjust="spacingAndGlyphs">10.00</text>
<text x="26.57" y="249.89" font-size="14.6" textLength="36.65" lengthAdjust="spacingAndGlyphs">20.00</text>
<text x="26.72" y="201.65" font-size="14.6" textLength="36.50" lengthAdjust="spacingAndGlyphs">30.00</text>
<text x="26.94" y="153.36" font-size="14.6" textLength="36.28" lengthAdjust="spacingAndGlyphs">40.00</text>
<text x="26.72" y="105.22" font-size="14.6" textLength="36.50" lengthAdjust="spacingAndGlyphs">50.00</text>
<text x="26.57" y="57.03" font-size="14.6" textLength="36.65" lengthAdjust="spacingAndGlyphs">60.00</text>
<text x="90.79" y="366.2" font-size="14" textLength="18.19" lengthAdjust="spacingAndGlyphs">Jul</text>
<text x="129.93" y="366.2" font-size="14" textLength="26.43" lengthAdjust="spacingAndGlyphs">Aug</text>
<text x="172.78" y="366.2" font-size="14" textLength="24.56" lengthAdjust="spacingAndGlyphs">Sep</text>
<text x="215.26" y="366.2" font-size="14" textLength="22.12" lengthAdjust="spacingAndGlyphs">Oct</text>
<text x="256.62" y="366.2" font-size="14" textLength="26.23" lengthAdjust="spacingAndGlyphs">Nov</text>
<text x="299.55" y="366.2" font-size="14" textLength="25.48" lengthAdjust="spacingAndGlyphs">Dec</text>
<text x="344.01" y="366.2" font-size="14" textLength="20.87" lengthAdjust="spacingAndGlyphs">Jan</text>
<text x="385.46" y="366.2" font-size="14" textLength="24.66" lengthAdjust="spacingAndGlyphs">Feb</text>
<text x="426.85" y="366.2" font-size="14" textLength="26.92" lengthAdjust="spacingAndGlyphs">Mar</text>
<text x="471.63" y="366.2" font-size="14" textLength="22.41" lengthAdjust="spacingAndGlyphs">Apr</text>
<text x="510.45" y="366.2" font-size="14" textLength="29.62" lengthAdjust="spacingAndGlyphs">May</text>
<text x="557.20" y="366.2" font-size="14" textLength="21.39" lengthAdjust="spacingAndGlyphs">Jun</text>
<text class="b" x="217.93" y="24.2" font-size="16.2" textLength="180.72" lengthAdjust="spacingAndGlyphs">Depreciation Expenses</text>
<text class="b" x="286.12" y="390.6" font-size="16.2" textLength="54.45" lengthAdjust="spacingAndGlyphs">Month</text>
<text class="b" transform="rotate(-90)" x="-226.25" y="27.4" font-size="17.4" textLength="76.95" lengthAdjust="spacingAndGlyphs">$ Millions</text>
<rect x="458.65" y="29.95" width="9.00" height="9.20" fill="url(#chkL)" stroke="#4F81BD" stroke-width="1.3"/>
<text x="471.15" y="39.4" font-size="14" textLength="76.36" lengthAdjust="spacingAndGlyphs">YTD Actuals</text>
<rect x="458.80" y="66.60" width="8.70" height="8.90" fill="url(#wv)" stroke="#C80000" stroke-width="1.6"/>
<text x="470.65" y="75.9" font-size="14" textLength="75.55" lengthAdjust="spacingAndGlyphs">YTD Budget</text>
</g>
</svg></body></html>
